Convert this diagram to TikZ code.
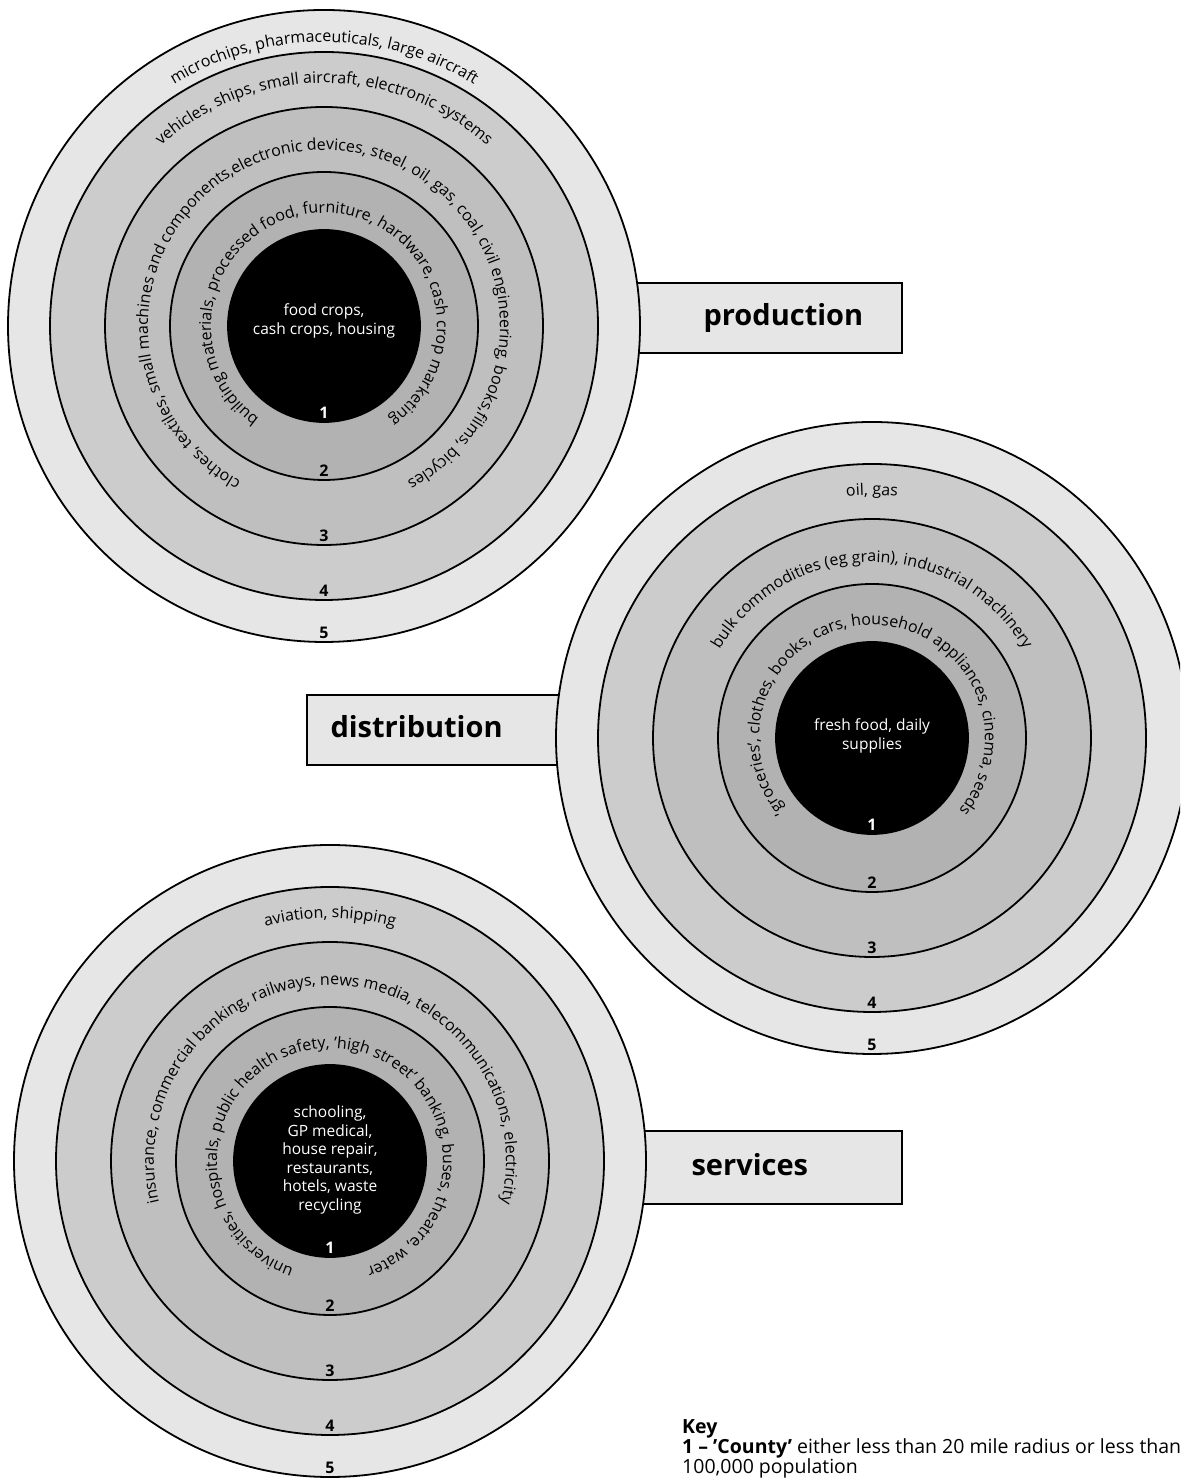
\documentclass[tikz,border=0pt]{standalone}
\usepackage{fontspec}
\setmainfont{Open Sans}
\usepackage{tikz}
\usetikzlibrary{decorations.text}
\definecolor{ringfive}{HTML}{E6E6E6}
\definecolor{ringfour}{HTML}{CCCCCC}
\definecolor{ringthree}{HTML}{BFBFBF}
\definecolor{ringtwo}{HTML}{B2B2B2}
\newcommand\ringfont{\fontsize{16}{18}\selectfont}
% text round a ring, centred on the top
\newcommand\ringtext[3]{%
  \path[decorate, decoration={text along path, text align=center,
      text={|\ringfont|#3}}]
    (#1) ++(265:#2) arc[start angle=265, end angle=-85, radius=#2];}

\begin{document}
\begin{tikzpicture}[x=1pt, y=1pt,
    ring/.style={circle, draw, line width=1.8pt, inner sep=0pt},
    tab/.style={draw, line width=1.8pt, fill=ringfive, inner sep=0pt},
    tablbl/.style={font=\fontsize{29}{33}\selectfont\bfseries, anchor=west},
    num/.style={font=\fontsize{16}{18}\selectfont\bfseries, anchor=base},
    core/.style={font=\fontsize{15.5}{18.5}\selectfont, text=white, align=center},
    key/.style={font=\fontsize{19.5}{20}\selectfont, align=left, anchor=north west, inner sep=0pt}
  ]
    \clip (0,0) rectangle (1180,1479);
    \coordinate (prod) at (324,1153);
    \coordinate (dist) at (872,741);
    \coordinate (serv) at (330,318);

    % tabs sit behind the rings
    \node[tab, minimum width=302, minimum height=70] (prodtab) at (751,1161) {};
    \node[tab, minimum width=293, minimum height=70] (disttab) at (453.5,749) {};
    \node[tab, minimum width=302, minimum height=73] (servtab) at (751,311.5) {};
    \node[tablbl] (prodlbl) at (700,1161) {production};
    \node[tablbl] (distlbl) at (327,752) {distribution};
    \node[tablbl] (servlbl) at (688,314) {services};

    \foreach \zone in {prod,dist,serv} {
      \foreach \r/\f/\n/\t in {316/ringfive/5/black, 274/ringfour/4/black,
          219/ringthree/3/black, 154/ringtwo/2/black, 96/black/1/white} {
        \node[ring, fill=\f, minimum size=2*\r] (\zone\n) at (\zone) {};
        \node[num, text=\t] (\zone num\n) at ([yshift=4.5]\zone\n.south) {\n};
      }
    }

    \node[core] (prodcore) at (324,1158) {food crops,\\cash crops, housing};
    \node[core] (distcore) at (872,743) {fresh food, daily\\supplies};
    \node[core] (servcore) at (330,319) {schooling,\\GP medical,\\house repair,\\restaurants,\\hotels, waste\\recycling};

    \ringtext{prod}{284}{microchips, pharmaceuticals, large aircraft}
    \ringtext{prod}{243}{vehicles, ships, small aircraft, electronic systems}
    \ringtext{prod}{176}{clothes, textiles, small machines and components,electronic devices, steel, oil, gas, coal, civil engineering, books,films, bicycles}
    \ringtext{prod}{113}{building materials, processed food, furniture, hardware, cash crop marketing}
    \ringtext{dist}{243}{oil, gas}
    \ringtext{dist}{176}{bulk commodities (eg grain), industrial machinery}
    \ringtext{dist}{113}{'groceries', clothes, books, cars, household appliances, cinema, seeds}
    \ringtext{serv}{243}{aviation, shipping}
    \ringtext{serv}{176}{insurance, commercial banking, railways, news media, telecommunications, electricity}
    \ringtext{serv}{113}{universities, hospitals, public health safety, 'high street' banking, buses, theatre, water}

    \node[key] (keytxt) at (682,60) {\textbf{Key}\\\textbf{1 -- 'County'} either less than 20 mile radius or less than\\100,000 population};
  \end{tikzpicture}
\end{document}
